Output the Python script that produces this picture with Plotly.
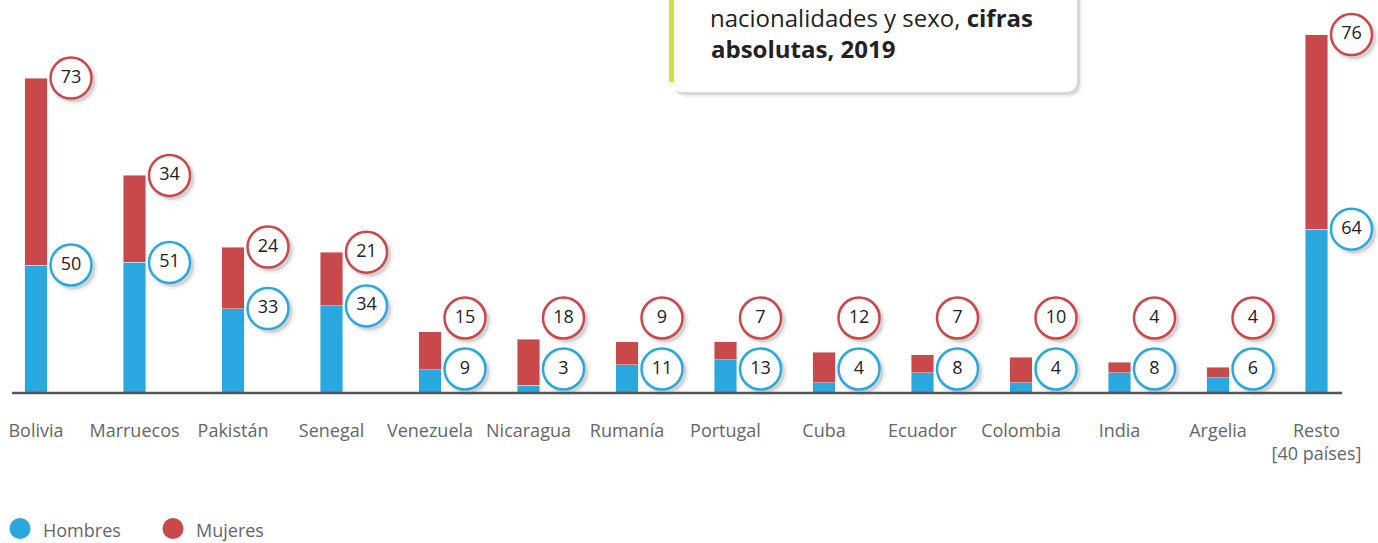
import plotly.graph_objects as go

categories = ["Bolivia", "Marruecos", "Pakistán", "Senegal", "Venezuela", "Nicaragua",
              "Rumanía", "Portugal", "Cuba", "Ecuador", "Colombia", "India", "Argelia",
              "Resto<br>[40 países]"]
hombres = [50, 51, 33, 34, 9, 3, 11, 13, 4, 8, 4, 8, 6, 64]
mujeres = [73, 34, 24, 21, 15, 18, 9, 7, 12, 7, 10, 4, 4, 76]

BLUE = "#29A8E0"
RED = "#C9484A"
W, H = 1378, 543
BASE_PX = 393          # pixel row of the baseline
PX_PER_UNIT = 2.56
X0_PX, STEP_PX = 36, 98.5

xs = list(range(len(categories)))
totals = [h + m for h, m in zip(hombres, mujeres)]

def px_x(px):
    return px / W

def px_y(py):
    return (BASE_PX - py) / BASE_PX

fig = go.Figure()

fig.add_trace(go.Bar(x=xs, y=hombres, marker_color=BLUE, width=0.225, name="Hombres",
                     showlegend=False, hoverinfo="skip"))
fig.add_trace(go.Bar(x=xs, y=mujeres, marker_color=RED, width=0.225, name="Mujeres",
                     showlegend=False, hoverinfo="skip"))

# label positions: at segment tops for tall bars, fixed rows for short ones
lab_dx = 35 / STEP_PX
small_w = (BASE_PX - 318) / PX_PER_UNIT
small_h = (BASE_PX - 369) / PX_PER_UNIT
lab_x = [x + lab_dx for x in xs]
lab_yh = [h if t > 40 else small_h for h, t in zip(hombres, totals)]
lab_ym = [t if t > 40 else small_w for t in totals]

sdx = 3 / STEP_PX
sdy = -3 / PX_PER_UNIT
for ys in (lab_yh, lab_ym):
    fig.add_trace(go.Scatter(x=[x + sdx for x in lab_x], y=[y + sdy for y in ys], mode="markers",
                             marker=dict(size=48, color="rgba(0,0,0,0.05)"),
                             showlegend=False, hoverinfo="skip", cliponaxis=False))
    fig.add_trace(go.Scatter(x=[x + sdx for x in lab_x], y=[y + sdy for y in ys], mode="markers",
                             marker=dict(size=43, color="rgba(0,0,0,0.12)"),
                             showlegend=False, hoverinfo="skip", cliponaxis=False))

for ys, vals, col in ((lab_yh, hombres, BLUE), (lab_ym, mujeres, RED)):
    fig.add_trace(go.Scatter(x=lab_x, y=ys, mode="markers+text", text=[str(v) for v in vals],
                             textposition="middle center",
                             textfont=dict(family="Open Sans", size=18, color="#222"),
                             marker=dict(size=41, color="white", line=dict(color=col, width=2.5)),
                             showlegend=False, hoverinfo="skip", cliponaxis=False))

shapes = []
# baseline
shapes.append(dict(type="line", xref="paper", yref="paper", x0=px_x(12), x1=px_x(1342),
                   y0=0, y1=0, line=dict(color="#555", width=2.5), layer="above"))

# title box (shadow + white rounded box + green accent)
def rounded_box(l, t, r, b, rad):
    return (f"M {px_x(l)},{px_y(t)} L {px_x(r)},{px_y(t)} "
            f"L {px_x(r)},{px_y(b - rad)} Q {px_x(r)},{px_y(b)} {px_x(r - rad)},{px_y(b)} "
            f"L {px_x(l + rad)},{px_y(b)} Q {px_x(l)},{px_y(b)} {px_x(l)},{px_y(b - rad)} Z")

shapes.append(dict(type="path", xref="paper", yref="paper", path=rounded_box(674, -20, 1082, 97, 14),
                   fillcolor="rgba(0,0,0,0.06)", line=dict(width=0), layer="above"))
shapes.append(dict(type="path", xref="paper", yref="paper", path=rounded_box(673, -20, 1080, 95, 13),
                   fillcolor="rgba(0,0,0,0.10)", line=dict(width=0), layer="above"))
shapes.append(dict(type="path", xref="paper", yref="paper", path=rounded_box(670, -20, 1077, 92, 12),
                   fillcolor="white", line=dict(width=0), layer="above"))
shapes.append(dict(type="rect", xref="paper", yref="paper", x0=px_x(669), x1=px_x(674),
                   y0=px_y(82), y1=px_y(-5), fillcolor="#D4E03A", line=dict(width=0), layer="above"))

# legend circles
for cx, col in ((20, BLUE), (173, RED)):
    shapes.append(dict(type="circle", xref="paper", yref="paper",
                       x0=px_x(cx - 10.5), x1=px_x(cx + 10.5), y0=px_y(539), y1=px_y(518),
                       fillcolor=col, line=dict(width=0)))

annotations = [
    dict(xref="paper", yref="paper", x=px_x(709), y=px_y(0), xanchor="left", yanchor="top",
         text="nacionalidades y sexo, <b>cifras</b>", showarrow=False, borderpad=0,
         font=dict(family="Open Sans", size=24, color="#222")),
    dict(xref="paper", yref="paper", x=px_x(709), y=px_y(48.5), xanchor="left", yanchor="middle",
         text="<b>absolutas, 2019</b>", showarrow=False,
         font=dict(family="Open Sans", size=24, color="#222")),
    dict(xref="paper", yref="paper", x=px_x(41), y=px_y(530), xanchor="left", yanchor="middle",
         text="Hombres", showarrow=False, font=dict(family="Open Sans", size=18, color="#666")),
    dict(xref="paper", yref="paper", x=px_x(194), y=px_y(530), xanchor="left", yanchor="middle",
         text="Mujeres", showarrow=False, font=dict(family="Open Sans", size=18, color="#666")),
]

x_lo = -X0_PX / STEP_PX
x_hi = x_lo + W / STEP_PX

fig.update_layout(
    width=W, height=H, barmode="stack", plot_bgcolor="white", paper_bgcolor="white",
    margin=dict(l=0, r=0, t=0, b=H - BASE_PX),
    showlegend=False, shapes=shapes, annotations=annotations,
    xaxis=dict(range=[x_lo, x_hi], tickvals=xs, ticktext=categories, showgrid=False,
               zeroline=False, showline=False, ticks="", ticklabelstandoff=25,
               tickfont=dict(family="Open Sans", size=18, color="#666"), fixedrange=True),
    yaxis=dict(range=[0, BASE_PX / PX_PER_UNIT], visible=False, fixedrange=True),
)

fig.write_html("out.html", config={"displayModeBar": False},
               post_script="document.body.style.margin='0px';document.body.style.overflow='hidden';")
